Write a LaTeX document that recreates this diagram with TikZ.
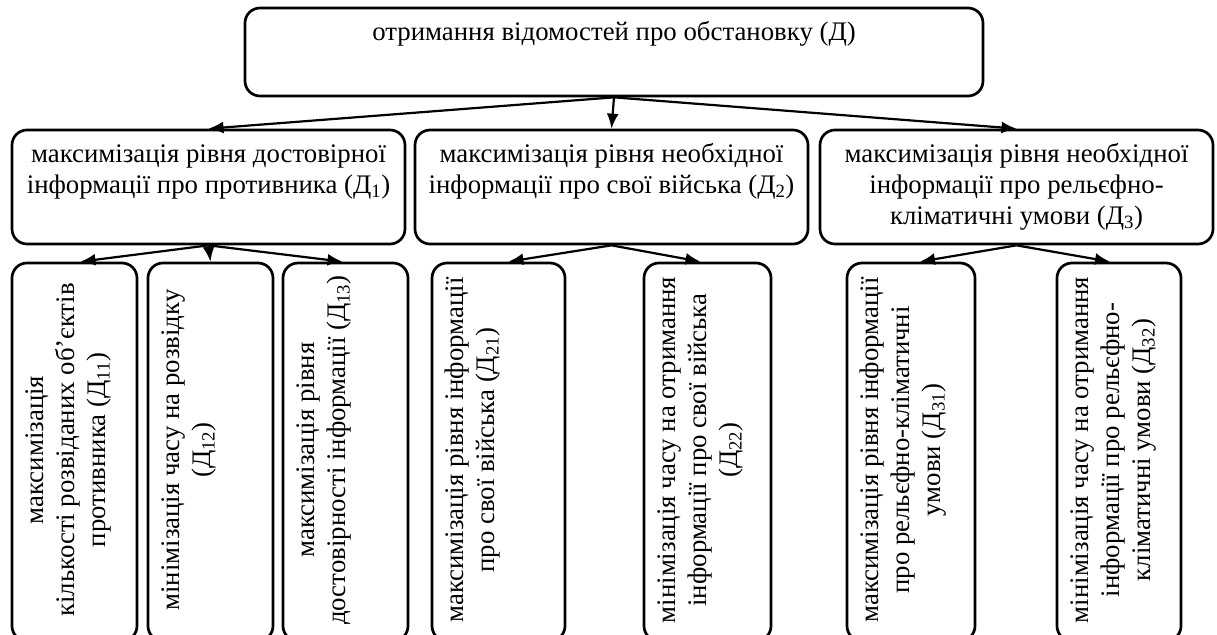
\documentclass[tikz,border=0pt]{standalone}
\usepackage{fontspec}
\setmainfont{Liberation Serif}
\usetikzlibrary{arrows.meta,calc}
\tikzset{
  box/.style={draw, line width=2.7pt, rounded corners=15pt, inner sep=0pt},
  txt/.style={inner sep=0pt, align=center, font=\fontsize{26.8}{31}\selectfont},
  rtxt/.style={txt, rotate=90, anchor=north},
  link/.style={line width=2.2pt, -{Latex[length=15pt,width=12pt]}}
}
\begin{document}
\begin{tikzpicture}[x=1pt,y=-1pt]
\useasboundingbox (0,0) rectangle (1217,634);
\clip (0,0) rectangle (1217,634);
% top box
\node[box, minimum width=738pt, minimum height=88pt] (top) at (614,52) {};
\node[txt, anchor=north] (ttop) at (614,18.8) {\strut отримання відомостей про обстановку (Д)};
% level 2
\node[box, minimum width=393pt, minimum height=114pt] (b1) at (208.5,187) {};
\node[box, minimum width=393pt, minimum height=114pt] (b2) at (611.5,187) {};
\node[box, minimum width=393pt, minimum height=114pt] (b3) at (1016.5,187) {};
\node[txt, anchor=north] (t1) at ($(b1.north)+(0,11.8)$) {\strut максимізація рівня достовірної\\інформації про противника (Д\textsubscript{1})};
\node[txt, anchor=north] (t2) at ($(b2.north)+(0,11.8)$) {\strut максимізація рівня необхідної\\інформації про свої війська (Д\textsubscript{2})};
\node[txt, anchor=north] (t3) at ($(b3.north)+(0,11.8)$) {\strut максимізація рівня необхідної\\інформації про рельєфно-\\кліматичні умови (Д\textsubscript{3})};
% level 3
\node[box, minimum width=125pt, minimum height=378pt] (b11) at (74.5,452) {};
\node[box, minimum width=125pt, minimum height=378pt] (b12) at (210.5,452) {};
\node[box, minimum width=125pt, minimum height=378pt] (b13) at (345.5,452) {};
\node[box, minimum width=133pt, minimum height=378pt] (b21) at (498.5,452) {};
\node[box, minimum width=127pt, minimum height=378pt] (b22) at (707.5,452) {};
\node[box, minimum width=128pt, minimum height=378pt] (b31) at (911,452) {};
\node[box, minimum width=124pt, minimum height=378pt] (b32) at (1119,452) {};
\node[rtxt] (t11) at ($(b11.west)+(11.3,-2)$) {\strut максимізація\\кількості розвіданих об’єктів\\противника (Д\textsubscript{11})};
\node[rtxt] (t12) at ($(b12.west)+(11.3,-2)$) {\strut мінімізація часу на розвідку\\(Д\textsubscript{12})};
\node[rtxt] (t13) at ($(b13.west)+(11.3,-2)$) {\strut максимізація рівня\\достовірності інформації (Д\textsubscript{13})};
\node[rtxt] (t21) at ($(b21.west)+(11.3,-2)$) {\strut максимізація рівня інформації\\про свої війська (Д\textsubscript{21})};
\node[rtxt] (t22) at ($(b22.west)+(11.3,-2)$) {\strut мінімізація часу на отримання\\інформації про свої війська\\(Д\textsubscript{22})};
\node[rtxt] (t31) at ($(b31.west)+(11.3,-2)$) {\strut максимізація рівня інформації\\про рельєфно-кліматичні\\умови (Д\textsubscript{31})};
\node[rtxt] (t32) at ($(b32.west)+(11.3,-2)$) {\strut мінімізація часу на отримання\\інформації про рельєфно-\\кліматичні умови (Д\textsubscript{32})};
% connectors
\draw[link] (top.south) -- (b1.north);
\draw[link] (top.south) -- (b2.north);
\draw[link] (top.south) -- (b3.north);
\draw[link] (b1.south) -- ($(b11.north)+(6,0)$);
\draw[link] (b1.south) -- (b12.north);
\draw[link] (b1.south) -- ($(b13.north)+(-3,0)$);
\draw[link] (b2.south) -- ($(b21.north)+(10,0)$);
\draw[link] (b2.south) -- ($(b22.north)+(-7,0)$);
\draw[link] (b3.south) -- ($(b31.north)+(9,0)$);
\draw[link] (b3.south) -- ($(b32.north)+(-9,0)$);
\end{tikzpicture}
\end{document}
